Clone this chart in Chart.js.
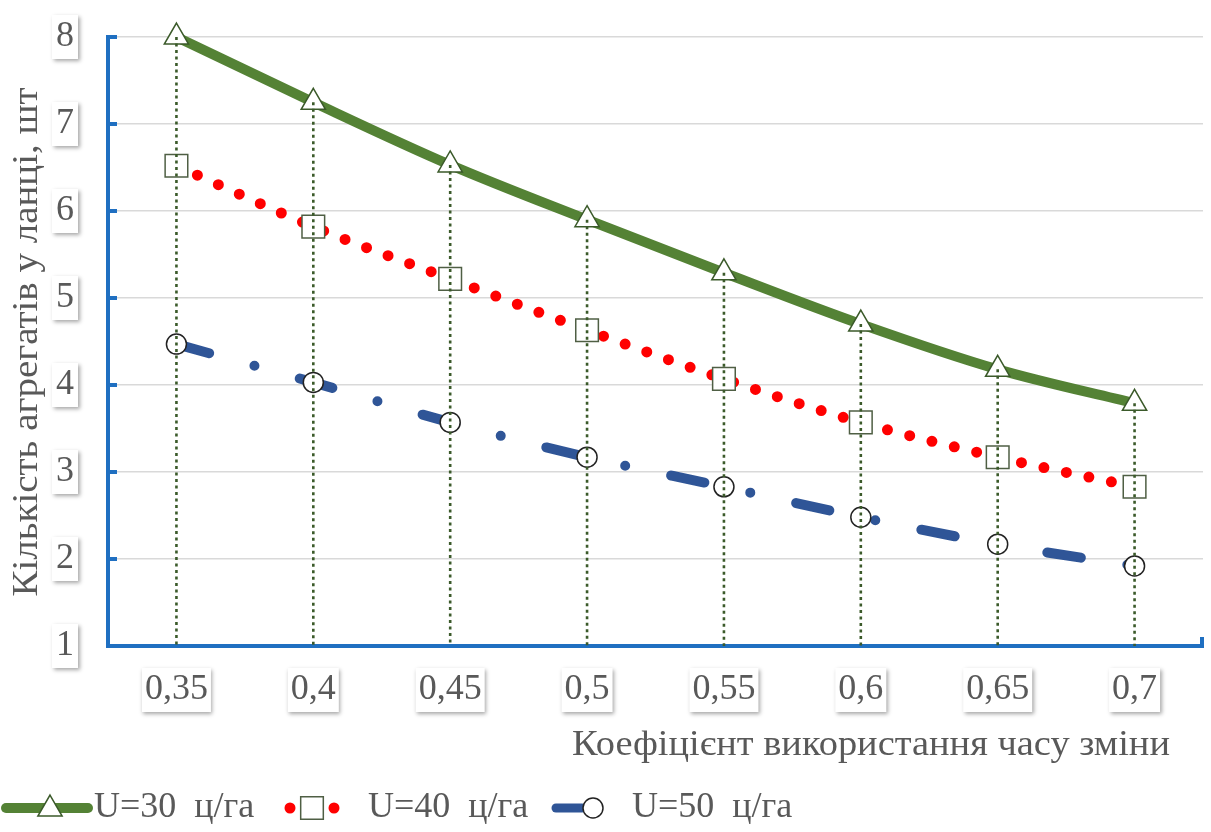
<!DOCTYPE html>
<html>
<head>
<meta charset="utf-8">
<script src="https://cdn.jsdelivr.net/npm/chart.js@4.4.1/dist/chart.umd.min.js"></script>
<style>
  html, body { margin: 0; padding: 0; background: #fff; }
  #wrap { width: 1211px; height: 832px; }
</style>
</head>
<body>
<div id="wrap"><canvas id="chart" width="1211" height="832"></canvas></div>
<script>
// categories and series
const categories = ["0,35", "0,4", "0,45", "0,5", "0,55", "0,6", "0,65", "0,7"];
const u30 = [8.0, 7.25, 6.53, 5.9, 5.29, 4.7, 4.18, 3.79];
const u40 = [6.52, 5.82, 5.22, 4.63, 4.07, 3.57, 3.17, 2.83];
const u50 = [4.47, 4.03, 3.57, 3.17, 2.83, 2.48, 2.17, 1.92];
const seriesNames = ["U=30  ц/га", "U=40  ц/га", "U=50  ц/га"];
const xTitle = "Коефіцієнт використання часу зміни";
const yTitle = "Кількість агрегатів у ланці, шт";

const FONT = "'Liberation Serif', 'Times New Roman', serif";
const TEXT = "#595959";
const GREEN = "#548235";
const RED = "#ff0000";
const BLUE = "#2f5597";
const AXIS = "#1f6fc1";
const DROP = "#3b5a2a";

function marker(ctx, style, x, y, r, stroke) {
  ctx.save();
  ctx.fillStyle = "#fff";
  ctx.strokeStyle = stroke;
  ctx.lineWidth = 1.5;
  ctx.beginPath();
  if (style === "triangle") {
    ctx.moveTo(x, y - r);
    ctx.lineTo(x + r * 0.866, y + r * 0.5);
    ctx.lineTo(x - r * 0.866, y + r * 0.5);
    ctx.closePath();
  } else if (style === "rect") {
    const s = r * Math.SQRT1_2;
    ctx.rect(x - s, y - s, 2 * s, 2 * s);
  } else {
    ctx.arc(x, y, r, 0, Math.PI * 2);
  }
  ctx.fill();
  ctx.stroke();
  ctx.restore();
}

function fitText(ctx, text, x, y, width, rotate) {
  const w = ctx.measureText(text).width;
  ctx.save();
  ctx.translate(x, y);
  if (rotate) ctx.rotate(-Math.PI / 2);
  ctx.scale(width / w, 1);
  ctx.textAlign = "center";
  ctx.textBaseline = "middle";
  ctx.fillText(text, 0, 0);
  ctx.restore();
}

// white boxes with soft shadow behind tick labels
const labelBoxes = {
  id: "labelBoxes",
  beforeDraw(chart) {
    const { ctx } = chart;
    ctx.save();
    ctx.fillStyle = "#fff";
    ctx.fillRect(0, 0, chart.width, chart.height);
    ctx.font = "36px " + FONT;
    ctx.shadowColor = "rgba(0,0,0,0.35)";
    ctx.shadowBlur = 4;
    ctx.shadowOffsetX = 1.5;
    ctx.shadowOffsetY = 1.5;
    const xs = chart.scales.x, ys = chart.scales.y;
    xs.ticks.forEach((t, i) => {
      const w = ctx.measureText(xs.getLabelForValue(t.value)).width + 6;
      const px = xs.getPixelForTick(i);
      ctx.fillRect(px - w / 2, 668, w, 44);
    });
    const right = ys.right - ys.options.ticks.padding;
    ys.ticks.forEach((t, i) => {
      const w = ctx.measureText(String(t.value)).width + 8;
      const py = ys.getPixelForTick(i);
      ctx.fillRect(right - w + 4, py - 22, w, 44);
    });
    ctx.restore();
  }
};

// drop lines from the top series, axis tick marks, titles and legend
const extras = {
  id: "extras",
  afterDatasetsDraw(chart) {
    const { ctx, chartArea } = chart;
    const meta = chart.getDatasetMeta(0);
    ctx.save();
    ctx.strokeStyle = DROP;
    ctx.lineWidth = 2.6;
    ctx.setLineDash([3, 3.5]);
    meta.data.forEach(pt => {
      ctx.beginPath();
      ctx.moveTo(pt.x, pt.y);
      ctx.lineTo(pt.x, chartArea.bottom);
      ctx.stroke();
    });
    ctx.restore();
  },
  afterDraw(chart) {
    const { ctx, chartArea } = chart;
    const ys = chart.scales.y;
    ctx.save();
    ctx.strokeStyle = AXIS;
    ctx.lineWidth = 4;
    ys.ticks.forEach((t, i) => {
      const py = ys.getPixelForTick(i);
      ctx.beginPath();
      ctx.moveTo(chartArea.left, py);
      ctx.lineTo(chartArea.left + 9, py);
      ctx.stroke();
    });
    ctx.beginPath();
    ctx.moveTo(chartArea.right - 1, chartArea.bottom);
    ctx.lineTo(chartArea.right - 1, chartArea.bottom - 9);
    ctx.stroke();

    ctx.fillStyle = TEXT;
    ctx.font = "36px " + FONT;
    fitText(ctx, xTitle, 871, 746, 598, false);
    fitText(ctx, yTitle, 28, 342, 509, true);

    // legend
    const ly = 808;
    ctx.lineCap = "round";
    ctx.lineWidth = 10;
    ctx.strokeStyle = GREEN;
    ctx.beginPath(); ctx.moveTo(6, ly); ctx.lineTo(88, ly); ctx.stroke();
    marker(ctx, "triangle", 50, ly + 1, 14, DROP);
    ctx.fillStyle = RED;
    [290, 334].forEach(x => { ctx.beginPath(); ctx.arc(x, ly, 5.5, 0, Math.PI * 2); ctx.fill(); });
    marker(ctx, "rect", 312, ly, 16, "#4f5f44");
    ctx.strokeStyle = BLUE;
    ctx.lineWidth = 9;
    ctx.beginPath(); ctx.moveTo(556, ly); ctx.lineTo(582, ly); ctx.stroke();
    marker(ctx, "circle", 593, ly, 10, "#222");
    ctx.fillStyle = TEXT;
    ctx.textAlign = "left";
    ctx.textBaseline = "middle";
    ctx.fillText(seriesNames[0], 94, ly);
    ctx.fillText(seriesNames[1], 368, ly);
    ctx.fillText(seriesNames[2], 632, ly);
    ctx.restore();
  }
};

new Chart(document.getElementById("chart"), {
  type: "line",
  data: {
    labels: categories,
    datasets: [
      {
        label: seriesNames[0], data: u30,
        borderColor: GREEN, borderWidth: 10, borderCapStyle: "round",
        cubicInterpolationMode: "monotone",
        pointStyle: "triangle", pointRadius: 14, pointBackgroundColor: "#fff",
        pointBorderColor: DROP, pointBorderWidth: 1.5, clip: false, order: 3
      },
      {
        label: seriesNames[1], data: u40,
        borderColor: RED, borderWidth: 11, borderCapStyle: "round", borderDash: [0, 23],
        cubicInterpolationMode: "monotone",
        pointStyle: "rect", pointRadius: 16, pointBackgroundColor: "#fff",
        pointBorderColor: "#4f5f44", pointBorderWidth: 1.5, clip: false, order: 2
      },
      {
        label: seriesNames[2], data: u50,
        borderColor: BLUE, borderWidth: 10, borderCapStyle: "round", borderDash: [34, 47, 0, 47],
        cubicInterpolationMode: "monotone",
        pointStyle: "circle", pointRadius: 10, pointBackgroundColor: "#fff",
        pointBorderColor: "#222", pointBorderWidth: 1.5, clip: false, order: 1
      }
    ]
  },
  options: {
    responsive: false,
    animation: false,
    layout: { autoPadding: false, padding: { top: 37, right: 8, bottom: 0, left: 0 } },
    plugins: { legend: { display: false }, tooltip: { enabled: false } },
    scales: {
      x: {
        type: "category",
        offset: true,
        grid: { display: false, drawTicks: false },
        border: { color: AXIS, width: 4 },
        ticks: { font: { family: FONT, size: 36 }, color: TEXT, padding: 22, maxRotation: 0, autoSkip: false },
        afterFit: s => { s.height = 186; s.paddingLeft = 0; s.paddingRight = 0; }
      },
      y: {
        min: 1, max: 8,
        grid: { color: "#d9d9d9", lineWidth: 1.5, drawTicks: false },
        border: { color: AXIS, width: 4 },
        ticks: { stepSize: 1, font: { family: FONT, size: 36 }, color: TEXT, padding: 34 },
        afterFit: s => { s.width = 108; s.paddingTop = 0; s.paddingBottom = 0; }
      }
    }
  },
  plugins: [labelBoxes, extras]
});
</script>
</body>
</html>
